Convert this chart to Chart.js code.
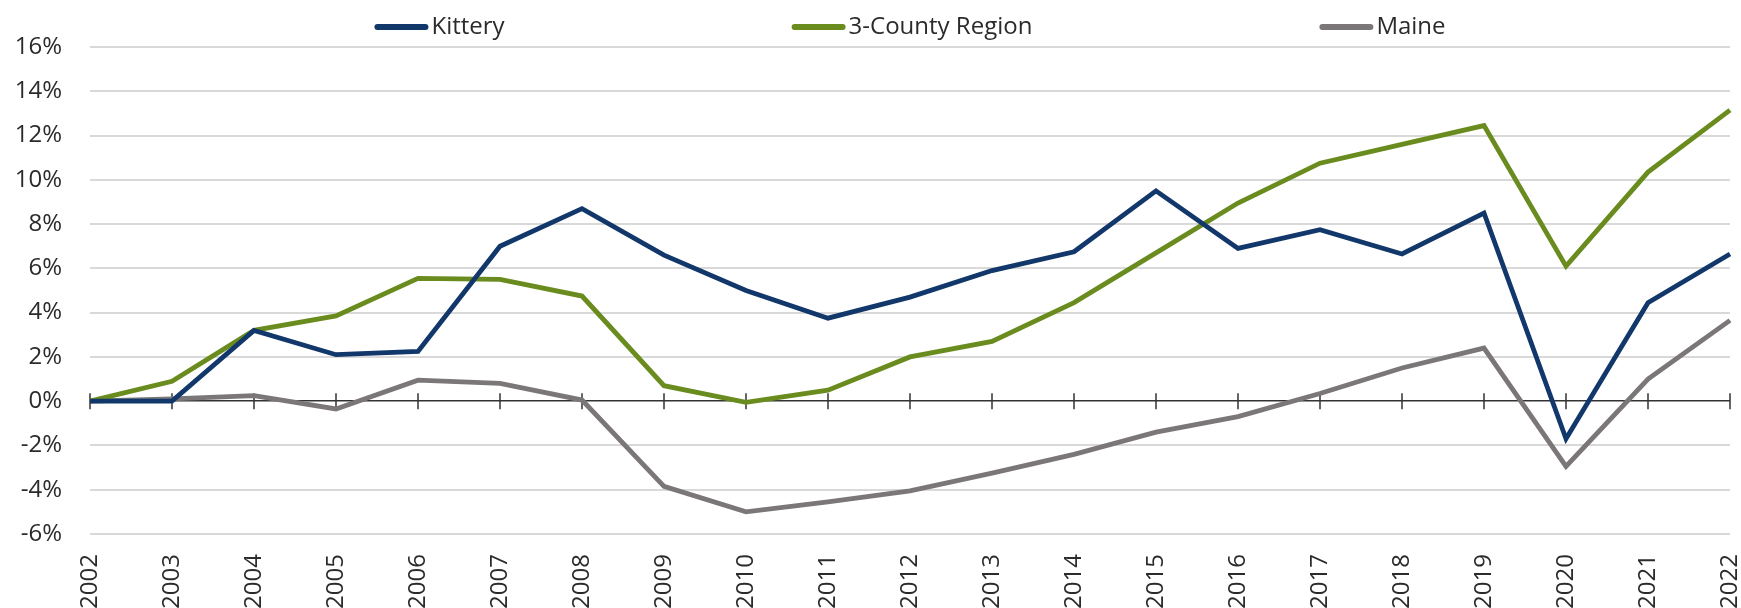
<!DOCTYPE html>
<html>
<head>
<meta charset="utf-8">
<script src="https://cdn.jsdelivr.net/npm/chart.js@4.4.0/dist/chart.umd.min.js"></script>
<style>
  html, body { margin: 0; padding: 0; background: #fff; }
  #wrap { width: 1741px; height: 608px; }
</style>
</head>
<body>
<div id="wrap"><canvas id="chart" width="1741" height="608"></canvas></div>
<script>
const years = ["2002", "2003", "2004", "2005", "2006", "2007", "2008", "2009", "2010", "2011", "2012",
  "2013", "2014", "2015", "2016", "2017", "2018", "2019", "2020", "2021", "2022"];

// % change since 2002
const kittery = [0, 0, 3.2, 2.1, 2.25, 7.0, 8.7, 6.6, 5.0, 3.75, 4.7, 5.9, 6.75, 9.5, 6.9, 7.75, 6.65, 8.5, -1.7, 4.45, 6.65];
const region = [0, 0.9, 3.2, 3.85, 5.55, 5.5, 4.75, 0.7, -0.05, 0.5, 2.0, 2.7, 4.45, 6.7, 8.95, 10.75, 11.6, 12.45, 6.1, 10.35, 13.15];
const maine = [0, 0.1, 0.25, -0.35, 0.95, 0.8, 0.05, -3.85, -5.0, -4.55, -4.05, -3.25, -2.4, -1.4, -0.7, 0.35, 1.5, 2.4, -2.95, 1.0, 3.65];

const seriesNames = ["Kittery", "3-County Region", "Maine"];
const seriesColors = ["#12386b", "#6a8c1f", "#7b7779"];

const yMin = -6;
const yMax = 16;
const yStep = 2;

const FONT = '"Open Sans", "Noto Sans", sans-serif';
const TEXT = "#2b2b2b";

// tick marks crossing the 0% line, like the Excel horizontal axis
const zeroTicks = {
  id: "zeroTicks",
  beforeDatasetsDraw(chart) {
    const { ctx, scales: { x, y } } = chart;
    const y0 = y.getPixelForValue(0);
    ctx.save();
    ctx.strokeStyle = "#333";
    ctx.lineWidth = 1.5;
    ctx.beginPath();
    x.ticks.forEach((t, i) => {
      const px = x.getPixelForTick(i);
      ctx.moveTo(px, y0 - 8);
      ctx.lineTo(px, y0 + 8);
    });
    ctx.stroke();
    ctx.restore();
  }
};

// legend spread out over the plot width
const lineLegend = {
  id: "lineLegend",
  afterDraw(chart) {
    const { ctx, chartArea } = chart;
    const gap = 287, lineLen = 54, textGap = 3, y = 27;
    ctx.save();
    ctx.font = "24px " + FONT;
    const items = chart.data.datasets.map(ds => ({
      text: ds.label,
      color: ds.borderColor,
      w: lineLen + textGap + ctx.measureText(ds.label).width
    }));
    const total = items.reduce((s, it) => s + it.w, 0) + gap * (items.length - 1);
    let x = (chartArea.left + chartArea.right) / 2 - total / 2;
    items.forEach(it => {
      ctx.strokeStyle = it.color;
      ctx.lineWidth = 6;
      ctx.lineCap = "round";
      ctx.beginPath();
      ctx.moveTo(x + 3, y);
      ctx.lineTo(x + lineLen - 3, y);
      ctx.stroke();
      ctx.fillStyle = TEXT;
      ctx.textBaseline = "middle";
      ctx.fillText(it.text, x + lineLen + textGap, y);
      x += it.w + gap;
    });
    ctx.restore();
  }
};

const ctx = document.getElementById("chart").getContext("2d");
new Chart(ctx, {
  type: "line",
  data: {
    labels: years,
    datasets: [kittery, region, maine].map((d, i) => ({
      label: seriesNames[i],
      data: d,
      borderColor: seriesColors[i],
      backgroundColor: seriesColors[i],
      borderWidth: 4.8,
      pointRadius: 0,
      tension: 0,
      fill: false
    }))
  },
  options: {
    responsive: false,
    animation: false,
    devicePixelRatio: 1,
    layout: { padding: { top: 47, left: 15, right: 11, bottom: 0 } },
    plugins: {
      legend: { display: false },
      tooltip: { enabled: false }
    },
    scales: {
      x: {
        offset: false,
        grid: { display: false, drawTicks: false },
        border: { display: false },
        ticks: {
          minRotation: 90,
          maxRotation: 90,
          autoSkip: false,
          padding: 20,
          color: TEXT,
          font: { family: FONT, size: 24 }
        },
        afterFit(scale) {
          scale.paddingLeft = 0;
          scale.paddingRight = 0;
          scale.height = 74;
        }
      },
      y: {
        min: yMin,
        max: yMax,
        border: { display: false },
        grid: {
          drawTicks: false,
          color: c => c.tick.value === 0 ? "#333" : "#d9d9d9",
          lineWidth: c => c.tick.value === 0 ? 1.5 : 2
        },
        ticks: {
          stepSize: yStep,
          padding: 28,
          color: TEXT,
          font: { family: FONT, size: 24 },
          callback: v => v + "%"
        },
        afterFit(scale) {
          scale.width = 75;
        }
      }
    }
  },
  plugins: [zeroTicks, lineLegend]
});
</script>
</body>
</html>
